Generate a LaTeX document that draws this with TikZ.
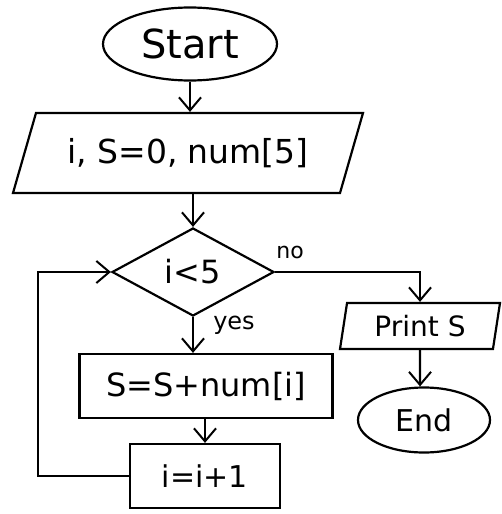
\documentclass[tikz,border=0pt]{standalone}
\usepackage{fontspec}
\setmainfont{DejaVu Sans}
\usetikzlibrary{shapes.geometric,arrows.meta}
\tikzset{
  ln/.style={line width=2.2pt, black},
  arr/.style={ln, -{Straight Barb[length=13pt,width=22pt,line width=2pt]}},
  term/.style={ln, draw, ellipse, inner sep=0pt},
  io/.style={ln, draw, trapezium, trapezium stretches body, inner sep=0pt},
  proc/.style={ln, draw, rectangle, inner sep=0pt},
  dec/.style={ln, draw, diamond, inner sep=0pt},
  lbl/.style={inner sep=0pt}
}
\begin{document}
\begin{tikzpicture}[x=1pt,y=-1pt]
\useasboundingbox (0,0) rectangle (502,514);
\fill[white] (0,0) rectangle (502,514);
\node[term, minimum width=174pt, minimum height=73pt, font=\fontsize{40}{44}\selectfont] (start) at (190,44) {Start};
\node[io, trapezium left angle=52, trapezium right angle=128, minimum width=350pt, minimum height=80pt, font=\fontsize{33}{36}\selectfont] (init) at (188,153) {i, S=0, num[5]};
\node[dec, minimum width=162pt, minimum height=88pt, font=\fontsize{32}{34}\selectfont] (cond) at (193,272) {i<5};
\node[proc, minimum width=253pt, minimum height=64pt, font=\fontsize{32}{34}\selectfont] (sbox) at (206,386) {S=S+num[i]};
\node[proc, minimum width=150pt, minimum height=64pt, font=\fontsize{30}{32}\selectfont] (ibox) at (205,476) {i=i+1};
\node[io, trapezium left angle=72, trapezium right angle=108, minimum width=160pt, minimum height=46pt, font=\fontsize{28}{30}\selectfont] (print) at (420,326) {Print S};
\node[term, minimum width=132pt, minimum height=65pt, font=\fontsize{30}{32}\selectfont] (end) at (424,420) {End};
\node[lbl, font=\fontsize{22}{24}\selectfont] (no) at (290,252) {no};
\node[lbl, font=\fontsize{24}{26}\selectfont] (yes) at (234,325) {yes};
\coordinate (lp) at (38,0);
\draw[arr] (start) -- (start.south |- init.north);
\draw[arr] (init.south -| cond.north) -- (cond.north);
\draw[arr] (cond.south) -- (cond.south |- sbox.north);
\draw[arr] (sbox.south -| ibox.north) -- (ibox.north);
\draw[arr] (cond.east) -- (cond.east -| print.north) -- (print.north);
\draw[arr] (print) -- (print.south |- end.north);
\draw[arr] (ibox.west) -- (ibox.west -| lp) -- (lp |- cond.west) -- (cond.west);
\end{tikzpicture}
\end{document}
